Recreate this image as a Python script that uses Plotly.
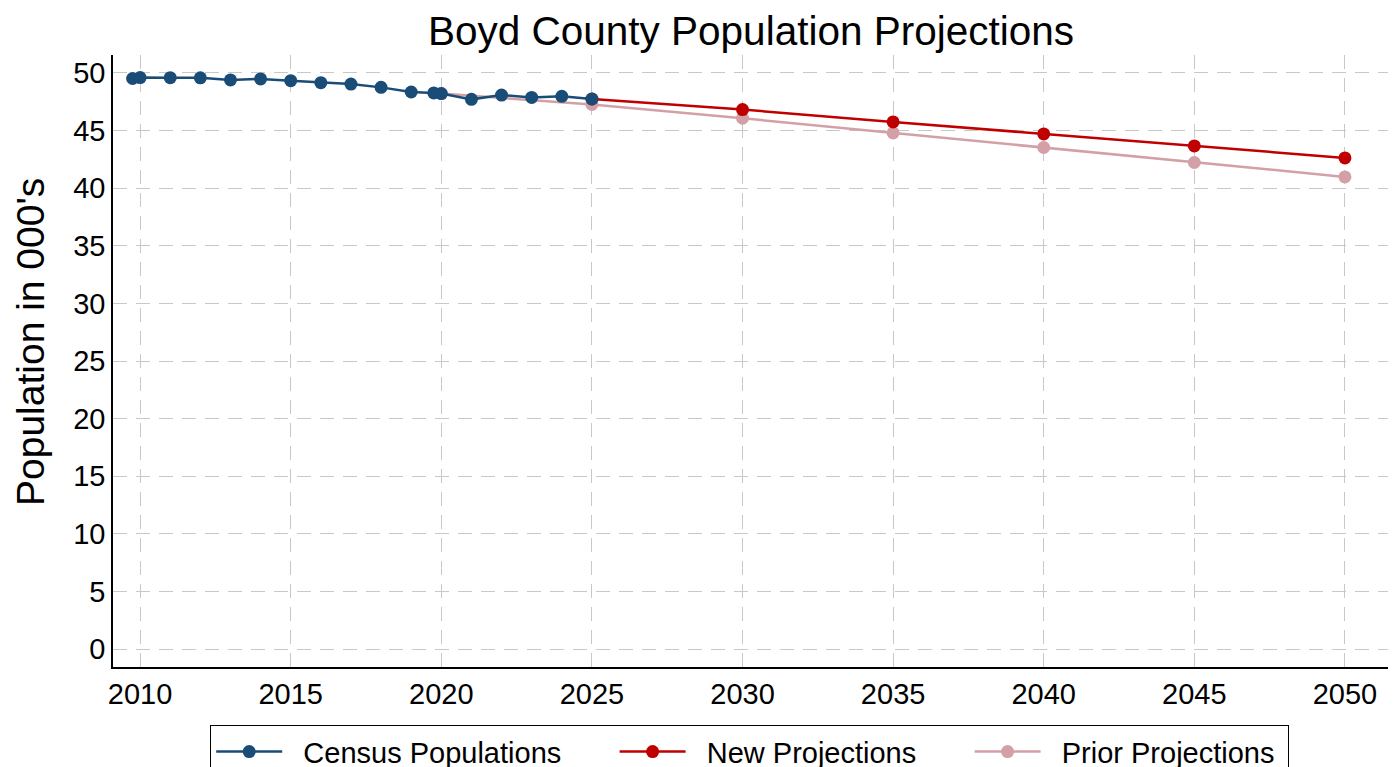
import plotly.graph_objects as go

# Census population estimates (thousands)
census_years = [2009.75, 2010, 2011, 2012, 2013, 2014, 2015, 2016, 2017, 2018, 2019,
                2019.75, 2020, 2021, 2022, 2023, 2024, 2025]
census_pop = [49.52, 49.60, 49.59, 49.58, 49.40, 49.48, 49.33, 49.16, 49.04, 48.75, 48.35,
              48.27, 48.21, 47.71, 48.08, 47.88, 47.97, 47.74]

# New projections (thousands)
new_years = [2025, 2030, 2035, 2040, 2045, 2050]
new_pop = [47.74, 46.82, 45.75, 44.71, 43.67, 42.63]

# Prior projections (thousands)
prior_years = [2020, 2025, 2030, 2035, 2040, 2045, 2050]
prior_pop = [48.21, 47.27, 46.07, 44.80, 43.53, 42.23, 40.98]

x_ticks = [2010, 2015, 2020, 2025, 2030, 2035, 2040, 2045, 2050]
y_ticks = [0, 5, 10, 15, 20, 25, 30, 35, 40, 45, 50]

series_names = ["Census Populations", "New Projections", "Prior Projections"]

BLUE = "#1a4c78"
RED = "#c00000"
PINK = "#d3a0a8"

NB = "\u00a0"


def label(s, trail=6):
    return NB * 2 + s + NB * trail


fig = go.Figure()
fig.add_trace(go.Scatter(x=prior_years, y=prior_pop, mode="lines+markers",
                         name=label(series_names[2], 1),
                         line=dict(color=PINK, width=2.5),
                         marker=dict(color=PINK, size=13), legendrank=3))
fig.add_trace(go.Scatter(x=new_years, y=new_pop, mode="lines+markers",
                         name=label(series_names[1]),
                         line=dict(color=RED, width=2.5),
                         marker=dict(color=RED, size=13), legendrank=2))
fig.add_trace(go.Scatter(x=census_years, y=census_pop, mode="lines+markers",
                         name=label(series_names[0]),
                         line=dict(color=BLUE, width=2.5),
                         marker=dict(color=BLUE, size=13), legendrank=1))

grid = dict(showgrid=True, gridcolor="#c8c8c8", gridwidth=1.2, griddash="14px,9px")

fig.update_layout(
    width=1400, height=767,
    paper_bgcolor="white", plot_bgcolor="white",
    font=dict(family="Liberation Sans, Arial, sans-serif", color="black", size=24),
    title=dict(text="Boyd County Population Projections", x=743 / 1400, xanchor="center",
               y=1 - 23 / 767, yanchor="middle", font=dict(size=40.5)),
    margin=dict(l=105, r=20, t=47, b=108, autoexpand=False),
    showlegend=True,
    legend=dict(orientation="h", x=202 / 1400, xanchor="left", xref="container",
                y=1 - 717 / 767, yanchor="top", yref="container",
                bordercolor="black", borderwidth=1.2, bgcolor="white",
                font=dict(size=29), traceorder="normal", itemwidth=66),
    xaxis=dict(range=[2009.1, 2051.43], tickvals=x_ticks, ticks="", automargin=False,
               showline=True, linecolor="black", linewidth=1.5,
               zeroline=False, tickfont=dict(size=29), **grid),
    yaxis=dict(range=[-1.56, 51.56], tickvals=y_ticks, ticks="", automargin=False,
               showline=True, linecolor="black", linewidth=1.5,
               zeroline=False, tickfont=dict(size=29), **grid),
    annotations=[dict(text="Population in 000's", textangle=-90,
                      xref="paper", yref="paper",
                      x=(22 - 105) / 1275, y=(659 - 334) / 612,
                      xanchor="center", yanchor="middle", showarrow=False,
                      font=dict(size=39))],
)

fig.write_html("out.html")
